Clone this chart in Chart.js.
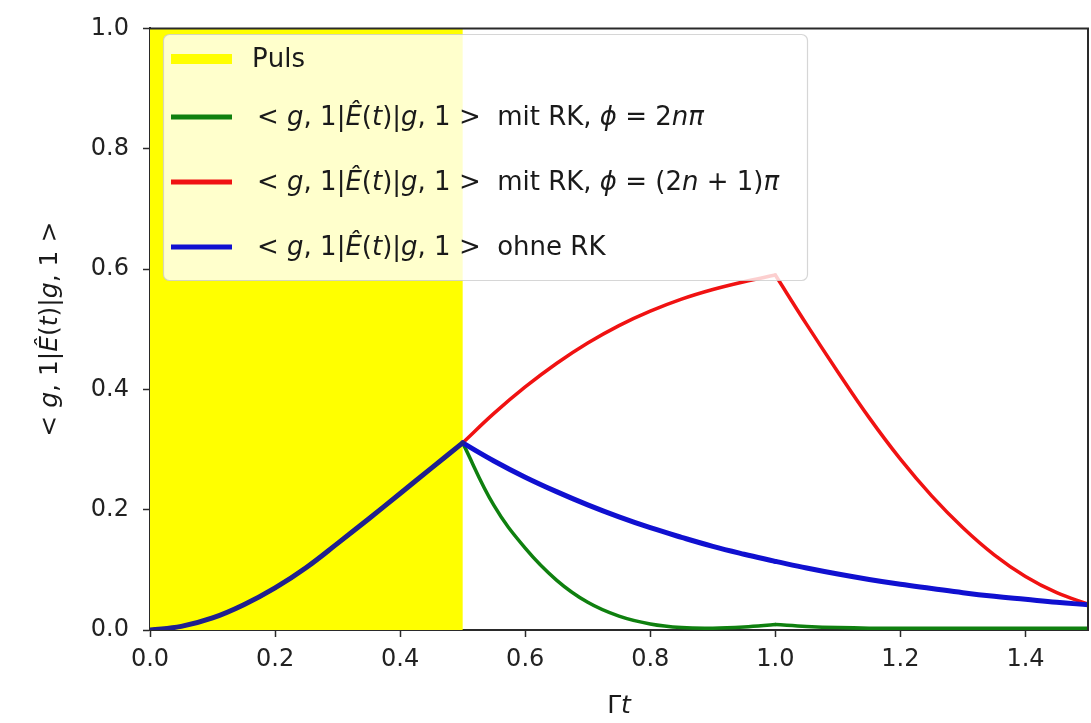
<!DOCTYPE html>
<html>
<head>
<meta charset="utf-8">
<script src="https://cdn.jsdelivr.net/npm/chart.js@4.4.1/dist/chart.umd.min.js"></script>
<style>
  html, body { margin: 0; padding: 0; background: #ffffff; }
  #wrap { width: 1091px; height: 723px; position: relative; }
</style>
</head>
<body>
<div id="wrap"><canvas id="c"></canvas></div>
<script>
// ---------- data ----------
const tValues = [0.00, 0.05, 0.10, 0.15, 0.20, 0.25, 0.30, 0.35, 0.40, 0.45, 0.50,
                 0.55, 0.60, 0.65, 0.70, 0.75, 0.80, 0.85, 0.90, 0.95, 1.00,
                 1.05, 1.10, 1.15, 1.20, 1.25, 1.30, 1.35, 1.40, 1.45, 1.50];

// <g,1|E(t)|g,1> mit RK, phi = 2 n pi (green)
const greenValues = [0.000, 0.006, 0.020, 0.042, 0.070, 0.104, 0.144, 0.185, 0.227, 0.269, 0.311,
                     0.207, 0.136, 0.083, 0.046, 0.023, 0.010, 0.004, 0.003, 0.005, 0.009,
                     0.006, 0.004, 0.003, 0.003, 0.003, 0.003, 0.003, 0.003, 0.003, 0.003];

// <g,1|E(t)|g,1> mit RK, phi = (2n+1) pi (red)
const redValues = [0.000, 0.006, 0.020, 0.042, 0.070, 0.104, 0.144, 0.185, 0.227, 0.269, 0.311,
                   0.360, 0.404, 0.443, 0.477, 0.506, 0.530, 0.550, 0.566, 0.579, 0.590,
                   0.508, 0.429, 0.353, 0.284, 0.223, 0.170, 0.125, 0.089, 0.062, 0.043];

// <g,1|E(t)|g,1> ohne RK (blue)
const blueValues = [0.000, 0.006, 0.020, 0.042, 0.070, 0.104, 0.144, 0.185, 0.227, 0.269, 0.311,
                    0.281, 0.254, 0.230, 0.208, 0.188, 0.170, 0.154, 0.139, 0.126, 0.114,
                    0.103, 0.093, 0.084, 0.076, 0.069, 0.062, 0.056, 0.051, 0.046, 0.042];

const pulseRange = [0.0, 0.5];           // yellow "Puls" band (Γt)
const kinkTimes = [0.50, 1.00];          // where the curves have corners
const xTicks = [0.0, 0.2, 0.4, 0.6, 0.8, 1.0, 1.2, 1.4];
const yTicks = [0.0, 0.2, 0.4, 0.6, 0.8, 1.0];

const pulseLabel = 'Puls';
const seriesLabels = [
  '$< g, 1|Ê(t)|g, 1 >$  mit RK, $ϕ = 2nπ$',
  '$< g, 1|Ê(t)|g, 1 >$  mit RK, $ϕ = (2n + 1)π$',
  '$< g, 1|Ê(t)|g, 1 >$  ohne RK'
];
const xTitle = '$Γt$';
const yTitle = '$< g, 1|Ê(t)|g, 1 >$';

// ---------- styles ----------
const FONT = '"DejaVu Sans", "Noto Sans", sans-serif';
const styles = [
  { color: '#0f800f', width: 3.5, order: 1 },
  { color: '#f01212', width: 3.5, order: 2 },
  { color: '#1010d0', width: 5, order: 0, firstColor: '#20208e' }
];
const seriesValues = [greenValues, redValues, blueValues];
const pulseColor = '#ffff00';

// ---------- build datasets (split at the corners so the spline keeps them) ----------
const kinkIdx = tValues.map((t, i) => kinkTimes.includes(t) ? i : -1).filter(i => i >= 0);
function splitSeries(values) {
  const bounds = [0, ...kinkIdx, tValues.length - 1];
  const segs = [];
  for (let k = 0; k < bounds.length - 1; k++) {
    const pts = [];
    for (let i = bounds[k]; i <= bounds[k + 1]; i++) pts.push({ x: tValues[i], y: values[i] });
    segs.push(pts);
  }
  return segs;
}
const datasets = [];
seriesValues.forEach((vals, s) => {
  splitSeries(vals).forEach((pts, k) => {
    const col = (k === 0 && styles[s].firstColor) ? styles[s].firstColor : styles[s].color;
    datasets.push({
      label: seriesLabels[s],
      data: pts,
      borderColor: col,
      backgroundColor: col,
      borderWidth: styles[s].width,
      pointRadius: 0,
      fill: false,
      tension: 0.4,
      borderCapStyle: 'round',
      borderJoinStyle: 'round',
      order: styles[s].order
    });
  });
});

// ---------- rich (mathtext-like) text ----------
function richRuns(str) {
  const parts = str.split('$');
  const runs = [];
  parts.forEach((p, i) => {
    const math = i % 2 === 1;
    for (const ch of p) {
      const italic = math && /[A-Za-zÊϕπ]/.test(ch);
      runs.push({ ch, italic });
    }
  });
  return runs;
}
function richWidth(ctx, str, size) {
  let w = 0;
  for (const r of richRuns(str)) {
    ctx.font = (r.italic ? 'italic ' : '') + size + 'px ' + FONT;
    w += ctx.measureText(r.ch).width;
  }
  return w;
}
function drawRich(ctx, str, x, y, size, color) {
  let cx = x;
  ctx.fillStyle = color;
  for (const r of richRuns(str)) {
    ctx.font = (r.italic ? 'italic ' : '') + size + 'px ' + FONT;
    ctx.fillText(r.ch, cx, y);
    cx += ctx.measureText(r.ch).width;
  }
  return cx - x;
}

// ---------- plugins ----------
const pulsePlugin = {
  id: 'pulse',
  beforeDatasetsDraw(chart) {
    const { ctx, scales: { x, y } } = chart;
    const x0 = x.getPixelForValue(pulseRange[0]);
    const x1 = x.getPixelForValue(pulseRange[1]);
    const yTop = y.getPixelForValue(1.0);
    const yBot = y.getPixelForValue(0.0);
    ctx.save();
    ctx.fillStyle = pulseColor;
    ctx.fillRect(x0, yTop, x1 - x0, yBot - yTop);
    ctx.restore();
  }
};

const framePlugin = {
  id: 'frame',
  afterDatasetsDraw(chart) {
    const { ctx, chartArea: a } = chart;
    ctx.save();
    ctx.strokeStyle = '#2a2a2a';
    ctx.lineWidth = 2;
    ctx.beginPath();
    ctx.moveTo(a.left, a.top);
    ctx.lineTo(a.right, a.top);
    ctx.lineTo(a.right, a.bottom);
    ctx.stroke();
    ctx.restore();
  }
};

const legendPlugin = {
  id: 'mplLegend',
  afterDatasetsDraw(chart) {
    const ctx = chart.ctx;
    const box = { x: 163.5, y: 34.5, w: 644, h: 246, r: 6 };
    ctx.save();
    ctx.beginPath();
    ctx.roundRect(box.x, box.y, box.w, box.h, box.r);
    ctx.fillStyle = 'rgba(255,255,255,0.8)';
    ctx.fill();
    ctx.strokeStyle = 'rgba(204,204,204,0.8)';
    ctx.lineWidth = 1.2;
    ctx.stroke();

    const handleX0 = 171, handleX1 = 232, textX = 252;
    const rows = [59, 117, 182, 247];
    ctx.textBaseline = 'middle';
    // Puls entry
    ctx.strokeStyle = pulseColor;
    ctx.lineWidth = 10;
    ctx.beginPath();
    ctx.moveTo(handleX0, rows[0]);
    ctx.lineTo(handleX1, rows[0]);
    ctx.stroke();
    drawRich(ctx, pulseLabel, textX, rows[0] + 1, 26, '#1a1a1a');
    // series entries
    [0, 1, 2].forEach((s, i) => {
      const y = rows[i + 1];
      ctx.strokeStyle = styles[s].color;
      ctx.lineWidth = 5;
      ctx.lineCap = 'butt';
      ctx.beginPath();
      ctx.moveTo(handleX0, y);
      ctx.lineTo(handleX1, y);
      ctx.stroke();
      drawRich(ctx, seriesLabels[s], textX + 5, y + 1, 26, '#1a1a1a');
    });
    ctx.restore();
  }
};

const titlesPlugin = {
  id: 'titles',
  afterDraw(chart) {
    const { ctx, chartArea: a } = chart;
    ctx.save();
    ctx.textBaseline = 'middle';
    // x title
    const wx = richWidth(ctx, xTitle, 25);
    drawRich(ctx, xTitle, (a.left + a.right) / 2 - wx / 2, 706, 25, '#1a1a1a');
    // y title
    const wy = richWidth(ctx, yTitle, 25);
    ctx.translate(50, (a.top + a.bottom) / 2);
    ctx.rotate(-Math.PI / 2);
    drawRich(ctx, yTitle, -wy / 2, 0, 25, '#1a1a1a');
    ctx.restore();
  }
};

// ---------- chart ----------
const axisColor = '#2a2a2a';
new Chart(document.getElementById('c'), {
  type: 'line',
  data: { datasets },
  options: {
    responsive: true,
    maintainAspectRatio: false,
    animation: false,
    devicePixelRatio: 1,
    layout: { padding: { left: 90, right: 3, top: 21, bottom: 0 } },
    plugins: {
      legend: { display: false },
      tooltip: { enabled: false },
      title: { display: false }
    },
    scales: {
      x: {
        type: 'linear',
        min: 0, max: 1.5,
        afterBuildTicks: (scale) => { scale.ticks = xTicks.map(v => ({ value: v })); },
        afterFit: (scale) => { scale.height = 93; },
        ticks: {
          color: '#222',
          font: { family: FONT, size: 24 },
          padding: 8,
          maxRotation: 0,
          autoSkip: false,
          callback: (v) => Number(v).toFixed(1)
        },
        grid: { display: true, drawOnChartArea: false, drawTicks: true, tickLength: 7, tickColor: axisColor, tickWidth: 1.5 },
        border: { display: true, color: axisColor, width: 2 }
      },
      y: {
        type: 'linear',
        min: 0, max: 1.0,
        afterBuildTicks: (scale) => { scale.ticks = yTicks.map(v => ({ value: v })); },
        afterFit: (scale) => { scale.width = 60; },
        ticks: {
          color: '#222',
          font: { family: FONT, size: 24 },
          padding: 14,
          autoSkip: false,
          callback: (v) => Number(v).toFixed(1)
        },
        grid: { display: true, drawOnChartArea: false, drawTicks: true, tickLength: 7, tickColor: axisColor, tickWidth: 1.5 },
        border: { display: true, color: axisColor, width: 2 }
      }
    }
  },
  plugins: [pulsePlugin, framePlugin, legendPlugin, titlesPlugin]
});
</script>
</body>
</html>
